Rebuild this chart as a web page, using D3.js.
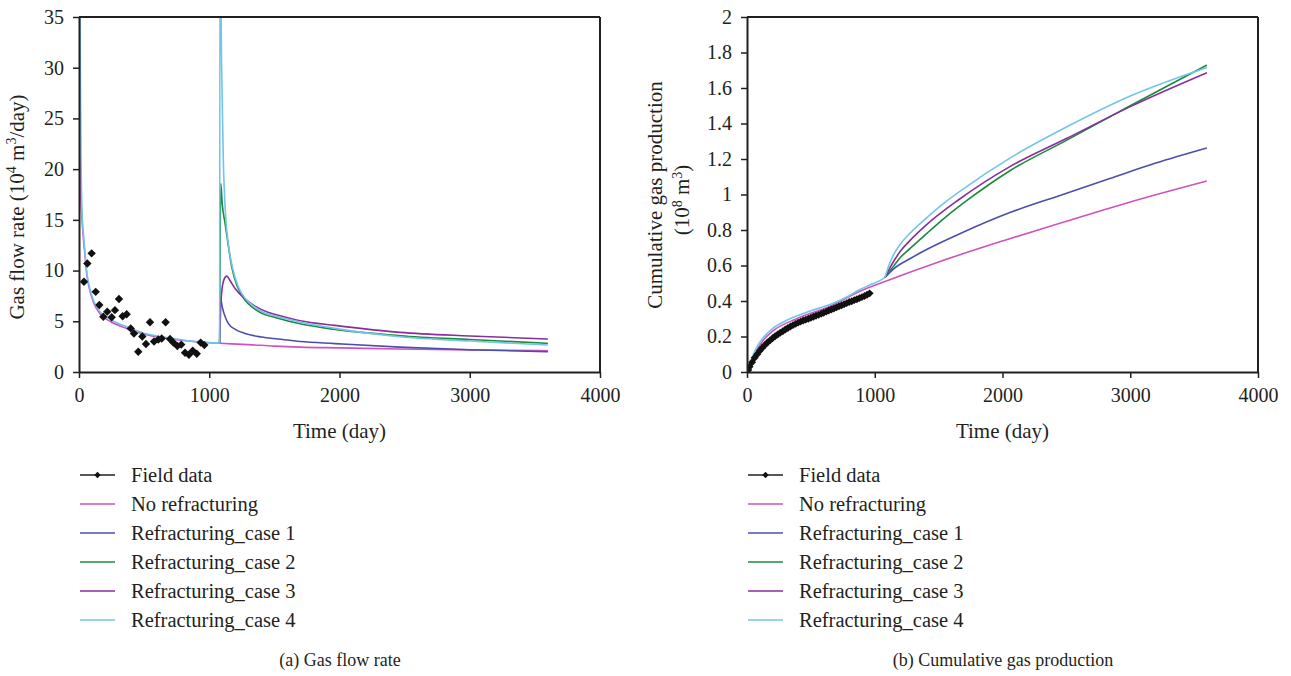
<!DOCTYPE html>
<html><head><meta charset="utf-8">
<script src="https://cdn.jsdelivr.net/npm/d3@7"></script>
<style>
body{margin:0;background:#fff;}
svg text{font-family:"Liberation Serif","DejaVu Serif",serif;fill:#231f20;}
</style></head>
<body><svg id="c" width="1291" height="676"></svg>
<script>
// ---------- DATA ----------
const xTicks = [0, 1000, 2000, 3000, 4000];
const rateTicks = [0, 5, 10, 15, 20, 25, 30, 35];
const cumTicks = [0, 0.2, 0.4, 0.6, 0.8, 1, 1.2, 1.4, 1.6, 1.8, 2];
const seriesNames = ["No refracturing", "Refracturing_case 1", "Refracturing_case 2", "Refracturing_case 3", "Refracturing_case 4"];
const seriesColors = ["#cf52bf", "#4c4eae", "#1b8a3c", "#8b2c9c", "#73c5e8"];

// (a) field data gas flow rate: [day, 10^4 m3/day]
const fieldRate = [[38,8.9],[64,10.7],[97,11.7],[128,7.9],[156,6.6],[187,5.45],[217,5.95],[251,5.4],[276,6.1],[307,7.2],[335,5.5],[366,5.7],[397,4.3],[422,3.8],[455,2.0],[486,3.5],[514,2.76],[545,4.9],[576,3.0],[609,3.2],[635,3.3],[665,4.9],[699,3.25],[724,2.9],[755,2.56],[785,2.7],[814,1.9],[844,1.7],[873,2.1],[904,1.8],[934,2.9],[962,2.65]];

// (a) simulated rates, shared history before refracturing
const rateBase = [[0,45],[8,35],[15,22],[23,16],[35,13.5],[46,11.8],[59,9.9],[84,8.2],[110,7.1],[161,5.95],[238,5.2],[366,4.45],[494,3.85],[622,3.5],[750,3.25],[878,3.02],[1000,2.9],[1080,2.85]];
const rateNoRefrac = [[0,27],[5,24],[12,18],[23,15],[35,13],[46,11.5],[59,9.7],[84,8.0],[110,6.9],[161,5.75],[238,5.0],[366,4.3],[494,3.75],[622,3.4],[750,3.18],[878,3.0],[1000,2.88],[1080,2.83],[1300,2.7],[1500,2.55],[1700,2.45],[2000,2.38],[2464,2.27],[3000,2.18],[3600,2.1]];
const rateCase1 = [[1080,2.85],[1084,7.4],[1100,6.4],[1146,4.8],[1200,4.2],[1274,3.8],[1400,3.45],[1530,3.25],[1700,3.0],[1965,2.8],[2464,2.45],[3000,2.2],[3600,2.0]];
const rateCase2 = [[1080,2.85],[1088,18.6],[1100,16.5],[1121,14.7],[1146,12.5],[1172,10.4],[1220,8.3],[1274,7.1],[1340,6.3],[1403,5.8],[1500,5.4],[1697,4.75],[1965,4.2],[2464,3.58],[3000,3.2],[3600,2.83]];
const rateCase3 = [[1080,2.85],[1090,7.0],[1110,9.0],[1134,9.45],[1160,9.0],[1200,8.2],[1274,7.2],[1351,6.5],[1450,5.9],[1530,5.6],[1697,5.06],[1965,4.6],[2464,3.91],[3000,3.55],[3600,3.25]];
const rateCase4 = [[1080,2.85],[1082,45],[1095,30],[1108,20.9],[1125,15.5],[1146,12.7],[1180,10.2],[1223,8.4],[1280,7.2],[1351,6.4],[1430,5.8],[1530,5.45],[1697,4.93],[1965,4.3],[2464,3.48],[3000,3.05],[3600,2.66]];

// (b) field data cumulative: [day, 10^8 m3]
const fieldCum = [[10,0.011],[20,0.03],[40,0.055],[60,0.08],[80,0.1],[100,0.12],[120,0.137],[140,0.152],[160,0.166],[180,0.178],[200,0.19],[220,0.201],[240,0.211],[260,0.221],[280,0.23],[300,0.239],[320,0.248],[340,0.256],[360,0.264],[380,0.271],[400,0.278],[420,0.284],[440,0.29],[460,0.295],[480,0.3],[500,0.306],[520,0.311],[540,0.317],[560,0.322],[580,0.328],[600,0.334],[620,0.34],[640,0.346],[660,0.352],[680,0.358],[700,0.364],[720,0.37],[740,0.376],[760,0.382],[780,0.388],[800,0.394],[820,0.399],[840,0.405],[860,0.41],[880,0.416],[900,0.422],[920,0.428],[940,0.435],[960,0.443]];

const cumBase = [[0,0],[10,0.02],[25,0.05],[50,0.1],[80,0.145],[128,0.195],[200,0.245],[300,0.287],[389,0.315],[500,0.345],[650,0.38],[800,0.43],[884,0.465],[960,0.49],[1040,0.515],[1080,0.533]];
const cumNoRefrac = [[0,0],[10,0.015],[50,0.085],[128,0.18],[200,0.23],[389,0.3],[650,0.37],[884,0.455],[1080,0.51],[1500,0.62],[2000,0.738],[2500,0.849],[3000,0.958],[3600,1.076]];
const cumCase1 = [[1080,0.533],[1146,0.58],[1275,0.638],[1406,0.69],[1700,0.79],[2058,0.898],[2450,0.995],[2840,1.09],[3200,1.177],[3600,1.262]];
const cumCase2 = [[1080,0.533],[1146,0.595],[1200,0.645],[1275,0.695],[1406,0.78],[1550,0.87],[1719,0.965],[2058,1.134],[2500,1.305],[3000,1.5],[3600,1.729]];
const cumCase3 = [[1080,0.533],[1110,0.575],[1146,0.621],[1200,0.68],[1275,0.74],[1406,0.83],[1654,0.969],[2058,1.157],[2500,1.315],[3000,1.495],[3600,1.686]];
const cumCase4 = [[1080,0.533],[1110,0.6],[1146,0.659],[1200,0.72],[1275,0.781],[1406,0.868],[1537,0.948],[1700,1.035],[2058,1.205],[2500,1.38],[3000,1.555],[3600,1.716]];

// ---------- DRAW ----------
const svg = d3.select("#c");
const fmt = d3.format("~g");

function panel(cfg){
  const g = svg.append("g");
  const x = d3.scaleLinear().domain([0,4000]).range([cfg.x0, cfg.x1]);
  const y = d3.scaleLinear().domain(cfg.yDomain).range([372, 17]);
  const clipId = "clip" + cfg.id;
  svg.append("clipPath").attr("id", clipId).append("rect")
    .attr("x", cfg.x0).attr("y", 17).attr("width", cfg.x1 - cfg.x0).attr("height", 355);

  const line = d3.line().x(d => x(d[0])).y(d => y(d[1])).curve(d3.curveMonotoneX);
  const plot = g.append("g").attr("clip-path", `url(#${clipId})`);

  cfg.series.forEach(s => {
    plot.append("path").attr("d", line(s.data)).attr("fill", "none")
      .attr("stroke", s.color).attr("stroke-width", 1.6);
  });
  const sym = d3.symbol().type(d3.symbolDiamond2).size(cfg.markerSize);
  plot.selectAll("path.fd").data(cfg.field).join("path").attr("class","fd")
    .attr("d", sym).attr("transform", d => `translate(${x(d[0])},${y(d[1])})`)
    .attr("fill", "#111");

  const xa = g.append("g").attr("transform", "translate(0,372)")
    .call(d3.axisBottom(x).tickValues(xTicks).tickFormat(fmt).tickSize(6).tickSizeOuter(0));
  const ya = g.append("g").attr("transform", `translate(${cfg.x0},0)`)
    .call(d3.axisLeft(y).tickValues(cfg.yTicks).tickFormat(fmt).tickSize(6).tickSizeOuter(0));
  [xa, ya].forEach(a => {
    a.select(".domain").attr("stroke", "#231f20").attr("stroke-width", 2);
    a.selectAll(".tick line").attr("stroke", "#231f20").attr("stroke-width", 1.5);
    a.selectAll(".tick text").style("font-family", '"Liberation Serif",serif').style("font-size", "20px").attr("fill", "#231f20");
  });
  xa.selectAll(".tick text").attr("y", 16);
  ya.selectAll(".tick text").attr("x", -15);
  g.append("line").attr("x1", cfg.x0).attr("x2", cfg.x1).attr("y1", 17).attr("y2", 17).attr("stroke", "#231f20").attr("stroke-width", 2);
  g.append("line").attr("x1", cfg.x1).attr("x2", cfg.x1).attr("y1", 17).attr("y2", 372).attr("stroke", "#231f20").attr("stroke-width", 2);

  g.append("text").attr("x", (cfg.x0 + cfg.x1) / 2).attr("y", 438).attr("text-anchor", "middle")
    .style("font-size", "21px").text("Time (day)");

  const items = [{name: "Field data", color: "#231f20", marker: true}]
    .concat(seriesNames.map((n, i) => ({name: n, color: seriesColors[i]})));
  items.forEach((it, i) => {
    const yy = 475 + i * 29;
    g.append("line").attr("x1", cfg.x0 + 1).attr("x2", cfg.x0 + 36).attr("y1", yy).attr("y2", yy)
      .attr("stroke", it.color).attr("stroke-width", 1.5);
    if (it.marker) g.append("path").attr("d", d3.symbol().type(d3.symbolDiamond2).size(26)())
      .attr("transform", `translate(${cfg.x0 + 18.5},${yy})`).attr("fill", "#111");
    g.append("text").attr("x", cfg.x0 + 52).attr("y", yy + 7).style("font-size", "20.5px").text(it.name);
  });
  g.append("text").attr("x", cfg.capX).attr("y", 666).attr("text-anchor", "middle")
    .style("font-size", "18px").text(cfg.caption);
  return g;
}

panel({id: "a", x0: 79, x1: 600, yDomain: [0, 35], yTicks: rateTicks, markerSize: 45,
  field: fieldRate, caption: "(a) Gas flow rate", capX: 340,
  series: [
    {data: rateNoRefrac, color: seriesColors[0]},
    {data: rateBase, color: seriesColors[4]},
    {data: rateCase1, color: seriesColors[1]},
    {data: rateCase2, color: seriesColors[2]},
    {data: rateCase3, color: seriesColors[3]},
    {data: rateCase4, color: seriesColors[4]}
  ]});

panel({id: "b", x0: 747, x1: 1258, yDomain: [0, 2], yTicks: cumTicks, markerSize: 40,
  field: fieldCum, caption: "(b) Cumulative gas production", capX: 1003,
  series: [
    {data: cumNoRefrac, color: seriesColors[0]},
    {data: cumBase, color: seriesColors[4]},
    {data: cumCase1, color: seriesColors[1]},
    {data: cumCase2, color: seriesColors[2]},
    {data: cumCase3, color: seriesColors[3]},
    {data: cumCase4, color: seriesColors[4]}
  ]});

const t1 = svg.append("text").attr("transform", "translate(24,207) rotate(-90)").attr("text-anchor", "middle").style("font-size", "21px");
t1.append("tspan").text("Gas flow rate (10");
t1.append("tspan").attr("dy", -8).style("font-size", "14px").text("4");
t1.append("tspan").attr("dy", 8).text(" m");
t1.append("tspan").attr("dy", -8).style("font-size", "14px").text("3");
t1.append("tspan").attr("dy", 8).text("/day)");

svg.append("text").attr("transform", "translate(662,195) rotate(-90)").attr("text-anchor", "middle").style("font-size", "21px")
  .text("Cumulative gas production");
const t3 = svg.append("text").attr("transform", "translate(689,200) rotate(-90)").attr("text-anchor", "middle").style("font-size", "21px");
t3.append("tspan").text("(10");
t3.append("tspan").attr("dy", -7).style("font-size", "14px").text("8");
t3.append("tspan").attr("dy", 7).text(" m");
t3.append("tspan").attr("dy", -7).style("font-size", "14px").text("3");
t3.append("tspan").attr("dy", 7).text(")");
</script></body></html>
